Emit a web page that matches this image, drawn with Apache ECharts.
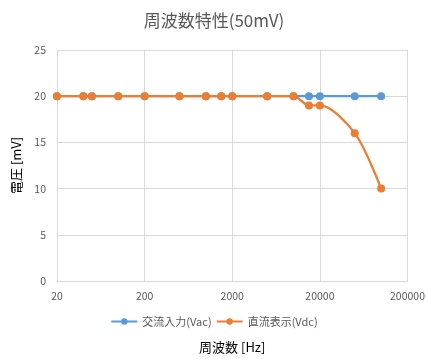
<!DOCTYPE html>
<html><head><meta charset="utf-8">
<script src="https://cdn.jsdelivr.net/npm/echarts@6/dist/echarts.min.js"></script>
<style>html,body{margin:0;padding:0;background:#fff}#c{width:428px;height:359px}</style>
</head><body><div id="c"></div>
<script>
const freqs = [20, 40, 50, 100, 200, 500, 1000, 1500, 2000, 5000, 10000, 15000, 20000, 50000, 100000];
const vac = [20, 20, 20, 20, 20, 20, 20, 20, 20, 20, 20, 20, 20, 20, 20];
const vdc = [20, 20, 20, 20, 20, 20, 20, 20, 20, 20, 20, 19, 19, 16, 10];
const xTicks = [20, 200, 2000, 20000, 200000];
const seriesNames = ['交流入力(Vac)', '直流表示(Vdc)'];
const base = xTicks[0];
const toX = f => Math.log10(f / base);
const font = "'Noto Sans CJK JP', 'Noto Sans', sans-serif";
const chart = echarts.init(document.getElementById('c'));
chart.setOption({
  animation: false,
  textStyle: { fontFamily: font },
  title: { text: '周波数特性(50mV)', left: 'center', top: 7,
    textStyle: { fontFamily: font, fontSize: 17, fontWeight: 'normal', color: '#595959' } },
  legend: { bottom: 27, left: 'center', itemWidth: 26, itemHeight: 8, itemGap: 4,
    textStyle: { fontFamily: font, fontSize: 11, color: '#595959' } },
  grid: { left: 57, right: 18, top: 50, bottom: 78 },
  xAxis: { type: 'value', min: 0, max: toX(xTicks[xTicks.length - 1]), interval: 1,
    name: '周波数 [Hz]', nameLocation: 'middle', nameGap: 60,
    nameTextStyle: { fontFamily: font, fontSize: 13, color: '#000' },
    axisLine: { show: true, lineStyle: { color: '#d9d9d9' } }, axisTick: { show: false },
    axisLabel: { color: '#595959', fontSize: 10.5, margin: 10,
      formatter: v => String(Math.round(base * Math.pow(10, v))) },
    splitLine: { show: true, lineStyle: { color: '#d9d9d9' } } },
  yAxis: { type: 'value', min: 0, max: 25, interval: 5,
    name: '電圧 [mV]', nameLocation: 'middle', nameGap: 34,
    nameTextStyle: { fontFamily: font, fontSize: 13, color: '#000' },
    axisLine: { show: true, lineStyle: { color: '#d9d9d9' } }, axisTick: { show: false },
    axisLabel: { color: '#595959', fontSize: 10.5, margin: 11 },
    splitLine: { lineStyle: { color: '#d9d9d9' } } },
  series: [
    { name: seriesNames[0], type: 'line', smooth: 0.3, symbol: 'circle', symbolSize: 8,
      color: '#5B9BD5', lineStyle: { width: 2.25 },
      data: freqs.map((f, i) => [toX(f), vac[i]]) },
    { name: seriesNames[1], type: 'line', smooth: 0.3, symbol: 'circle', symbolSize: 8,
      color: '#ED7D31', lineStyle: { width: 2.25 },
      data: freqs.map((f, i) => [toX(f), vdc[i]]) }
  ]
});
</script></body></html>
